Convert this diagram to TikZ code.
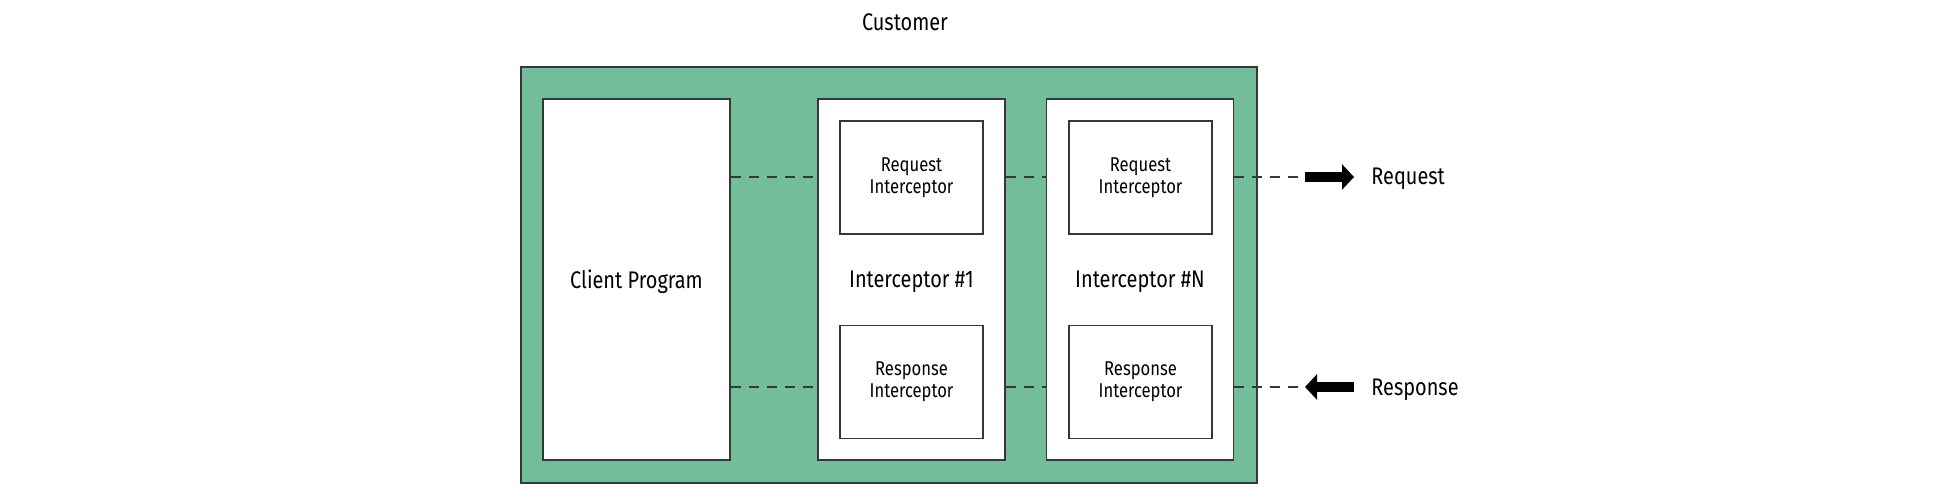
\documentclass[tikz,border=0pt]{standalone}
\usepackage{fontspec}
\setmainfont{Fira Sans}[FakeStretch=0.83]
\usepackage{xcolor}
\usepackage{tikz}
\usetikzlibrary{arrows.meta}
\definecolor{custgreen}{RGB}{114,190,155}
\definecolor{boxline}{RGB}{55,55,55}

\begin{document}
\begin{tikzpicture}[x=0.5pt,y=-0.5pt,
  box/.style={draw=boxline,line width=0.75pt,fill=white,inner sep=0pt},
  bigbox/.style={box,minimum width=93.5pt,minimum height=180.5pt,text depth=0pt,font=\fontsize{12}{14}\selectfont},
  smallbox/.style={box,minimum width=71.5pt,minimum height=56.5pt,align=center,font=\fontsize{10}{11}\selectfont},
  link/.style={draw=boxline,line width=0.75pt,dash pattern=on 5pt off 4pt},
  flow/.style={line width=5pt,-{Triangle[length=6pt,width=12.5pt]}},
  lbl/.style={inner sep=0pt,font=\fontsize{12}{14}\selectfont}]
  \useasboundingbox (0,0) rectangle (1955,497);
  % customer frame
  \node[lbl] (cust) at (905,22) {Customer};
  \node[box,fill=custgreen,minimum width=368pt,minimum height=208pt] (frame) at (889,275) {};
  % client and interceptors
  \node[bigbox] (client) at (636.5,279.5) {Client Program};
  \node[bigbox] (int1) at (911.5,279.5) {Interceptor \#1};
  \node[bigbox] (intN) at (1140,279.5) {Interceptor \#N};
  \node[smallbox] (req1) at (911.5,177.5) {Request\\Interceptor};
  \node[smallbox] (resp1) at (911.5,382) {Response\\Interceptor};
  \node[smallbox] (reqN) at (1140.5,177.5) {Request\\Interceptor};
  \node[smallbox] (respN) at (1140.5,382) {Response\\Interceptor};
  % dashed links
  \coordinate (reqtail) at (1305,177);
  \coordinate (reqtip) at (1354,177);
  \coordinate (resptail) at (1354,387);
  \coordinate (resptip) at (1305,387);
  \draw[link] (client.east |- reqtail) -- (int1.west |- reqtail);
  \draw[link] (int1.east |- reqtail) -- (intN.west |- reqtail);
  \draw[link] (intN.east |- reqtail) -- (reqtail);
  \draw[link] (client.east |- resptip) -- (int1.west |- resptip);
  \draw[link] (int1.east |- resptip) -- (intN.west |- resptip);
  \draw[link] (intN.east |- resptip) -- (resptip);
  % request / response
  \draw[flow] (reqtail) -- (reqtip);
  \draw[flow] (resptail) -- (resptip);
  \node[lbl,anchor=base west] (reqlbl) at (1371,185) {Request};
  \node[lbl,anchor=base west] (resplbl) at (1371,395) {Response};
\end{tikzpicture}
\end{document}
